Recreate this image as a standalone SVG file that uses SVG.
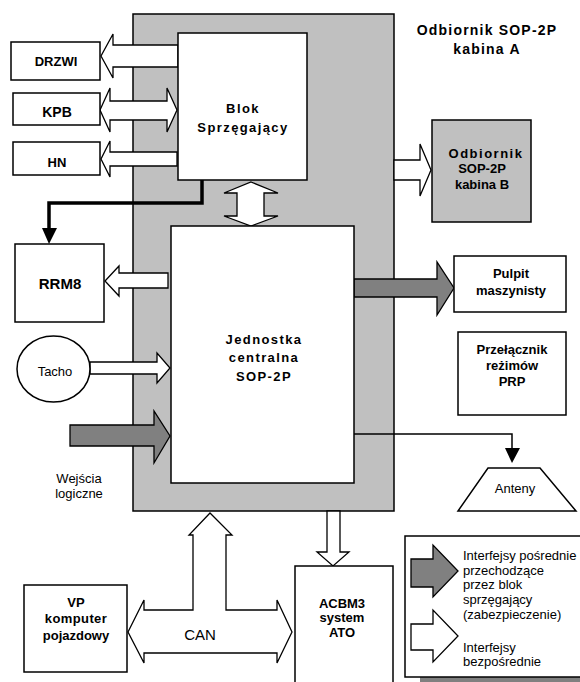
<svg xmlns="http://www.w3.org/2000/svg" width="580" height="682" viewBox="0 0 580 682">
<style>
text{font-family:"Liberation Sans",Arial,sans-serif;fill:#000}
.b{font-weight:bold;font-size:13px;text-anchor:middle}
.s{letter-spacing:1.4px}
.r{font-size:13px}
.box{fill:#fff;stroke:#000;stroke-width:1.5}
.gbox{fill:#c0c0c0;stroke:#000;stroke-width:1.5}
.wa{fill:#fff;stroke:#000;stroke-width:1.3;stroke-linejoin:miter}
.ga{fill:#808080;stroke:#000;stroke-width:1.3}
.ln{fill:none;stroke:#000}
</style>
<rect width="580" height="682" fill="#fff"/>
<g id="container">
<rect class="gbox" x="133" y="14" width="261" height="497"/>
<text class="b" x="487" y="35" style="font-size:14px;letter-spacing:1.2px">Odbiornik SOP-2P</text>
<text class="b" x="487" y="54" style="font-size:14px;letter-spacing:1.2px">kabina A</text>
</g>
<g id="connectors">
<polygon class="wa" points="178,45 113,45 113,34 101,56 113,78 113,67 178,67"/>
<polygon class="wa" points="100,110 110,88 110,101 167,101 167,88 177,110 167,132 167,120 110,120 110,132"/>
<polygon class="wa" points="177,152 110,152 110,141 101,159 110,177 110,166 177,166"/>
<polygon class="wa" points="251,182 278,193 264,193 264,216 278,216 251,226 224,216 237,216 237,193 224,193"/>
<path class="ln" d="M202,180 V203 H49 V230" stroke-width="3.5"/>
<polygon points="42,228 57,228 49,244" fill="#000"/>
<polygon class="wa" points="168,273 119,273 119,266 105,281 119,296 119,288 168,288"/>
<polygon class="wa" points="90,362 157,362 157,353 170,368 157,383 157,374 90,374"/>
<polygon class="ga" points="70,425 154,425 154,411 170,436 154,463 154,446 70,446"/>
<polygon class="wa" points="394,160 420,160 420,144 431,170 420,196 420,180 394,180"/>
<polygon class="ga" points="354,279 437,279 437,262 454,288 437,315 437,297 354,297"/>
<path class="ln" d="M354,434 H512 V450" stroke-width="1.5"/>
<polygon points="505,448 520,448 512,463" fill="#000"/>
<polygon class="wa" points="327,511 340,511 340,552 349,552 333,566 317,552 327,552"/>
<polygon class="wa" points="128,632 144,600 144,610 193,610 193,535 189,535 210,513 232,535 226,535 226,610 277,610 277,600 292,632 277,663 277,653 144,653 144,663"/>
<text class="r" x="200" y="640" text-anchor="middle" style="font-size:15px">CAN</text>
</g>
<g id="blok">
<rect class="box" x="178" y="33" width="129" height="147"/>
<text class="b s" x="243" y="113">Blok</text>
<text class="b s" x="243" y="132">Sprzęgający</text>
</g>
<g id="jednostka">
<rect class="box" x="171" y="226" width="183" height="257"/>
<text class="b s" x="264" y="344">Jednostka</text>
<text class="b s" x="264" y="362">centralna</text>
<text class="b s" x="264" y="381">SOP-2P</text>
</g>
<g id="drzwi">
<rect class="box" x="11" y="42" width="89" height="38"/>
<text class="b" x="56" y="66">DRZWI</text>
</g>
<g id="kpb">
<rect class="box" x="13" y="93" width="87" height="32"/>
<text class="b" x="57" y="117" style="font-size:14px">KPB</text>
</g>
<g id="hn">
<rect class="box" x="13" y="142" width="87" height="33"/>
<text class="b" x="57" y="167">HN</text>
</g>
<g id="rrm8">
<rect class="box" x="15" y="244" width="89" height="78"/>
<text class="b" x="60" y="289" style="font-size:15px">RRM8</text>
</g>
<g id="tacho">
<ellipse cx="53.5" cy="369" rx="36.5" ry="33" fill="#fff" stroke="#000" stroke-width="1.5"/>
<text class="r" x="55" y="376" text-anchor="middle">Tacho</text>
</g>
<g id="wejscia">
<text class="r" x="79" y="483" text-anchor="middle">Wejścia</text>
<text class="r" x="79" y="498" text-anchor="middle">logiczne</text>
</g>
<g id="kabinaB">
<rect class="gbox" x="432" y="120" width="99" height="102"/>
<text class="b" x="486" y="158" style="letter-spacing:1.5px">Odbiornik</text>
<text class="b" x="482" y="173">SOP-2P</text>
<text class="b" x="482" y="189">kabina B</text>
</g>
<g id="pulpit">
<rect class="box" x="454" y="256" width="112" height="56"/>
<text class="b" x="511" y="278">Pulpit</text>
<text class="b" x="511" y="295">maszynisty</text>
</g>
<g id="przelacznik">
<rect class="box" x="458" y="332" width="108" height="83"/>
<text class="b" x="512" y="354">Przełącznik</text>
<text class="b" x="512" y="370">reżimów</text>
<text class="b" x="512" y="386">PRP</text>
</g>
<g id="anteny">
<polygon points="488,468 540,468 576,511 458,511" fill="#fff" stroke="#000" stroke-width="1.5"/>
<text class="r" x="515" y="493" text-anchor="middle">Anteny</text>
</g>
<g id="acbm3">
<rect class="box" x="295" y="566" width="98" height="130"/>
<text class="b" x="342" y="608">ACBM3</text>
<text class="b" x="342" y="622">system</text>
<text class="b" x="342" y="637">ATO</text>
</g>
<g id="vp">
<rect class="box" x="24" y="585" width="103" height="87"/>
<text class="b" x="76" y="607">VP</text>
<text class="b" x="76" y="623" style="letter-spacing:0.4px">komputer</text>
<text class="b" x="76" y="640">pojazdowy</text>
</g>
<g id="legend">
<rect x="420" y="550" width="200" height="132" fill="#808080"/>
<rect class="box" x="405" y="536" width="190" height="141"/>
<polygon class="ga" points="411,559 433,559 433,545 458,571 433,597 433,587 411,587"/>
<polygon class="wa" points="411,624 433,624 433,610 458,636 433,662 433,650 411,650"/>
<text class="r" x="463" y="560">Interfejsy pośrednie</text>
<text class="r" x="463" y="575">przechodzące</text>
<text class="r" x="463" y="589">przez blok</text>
<text class="r" x="463" y="604">sprzęgający</text>
<text class="r" x="463" y="619">(zabezpieczenie)</text>
<text class="r" x="463" y="652">Interfejsy</text>
<text class="r" x="463" y="666">bezpośrednie</text>
</g>
</svg>
